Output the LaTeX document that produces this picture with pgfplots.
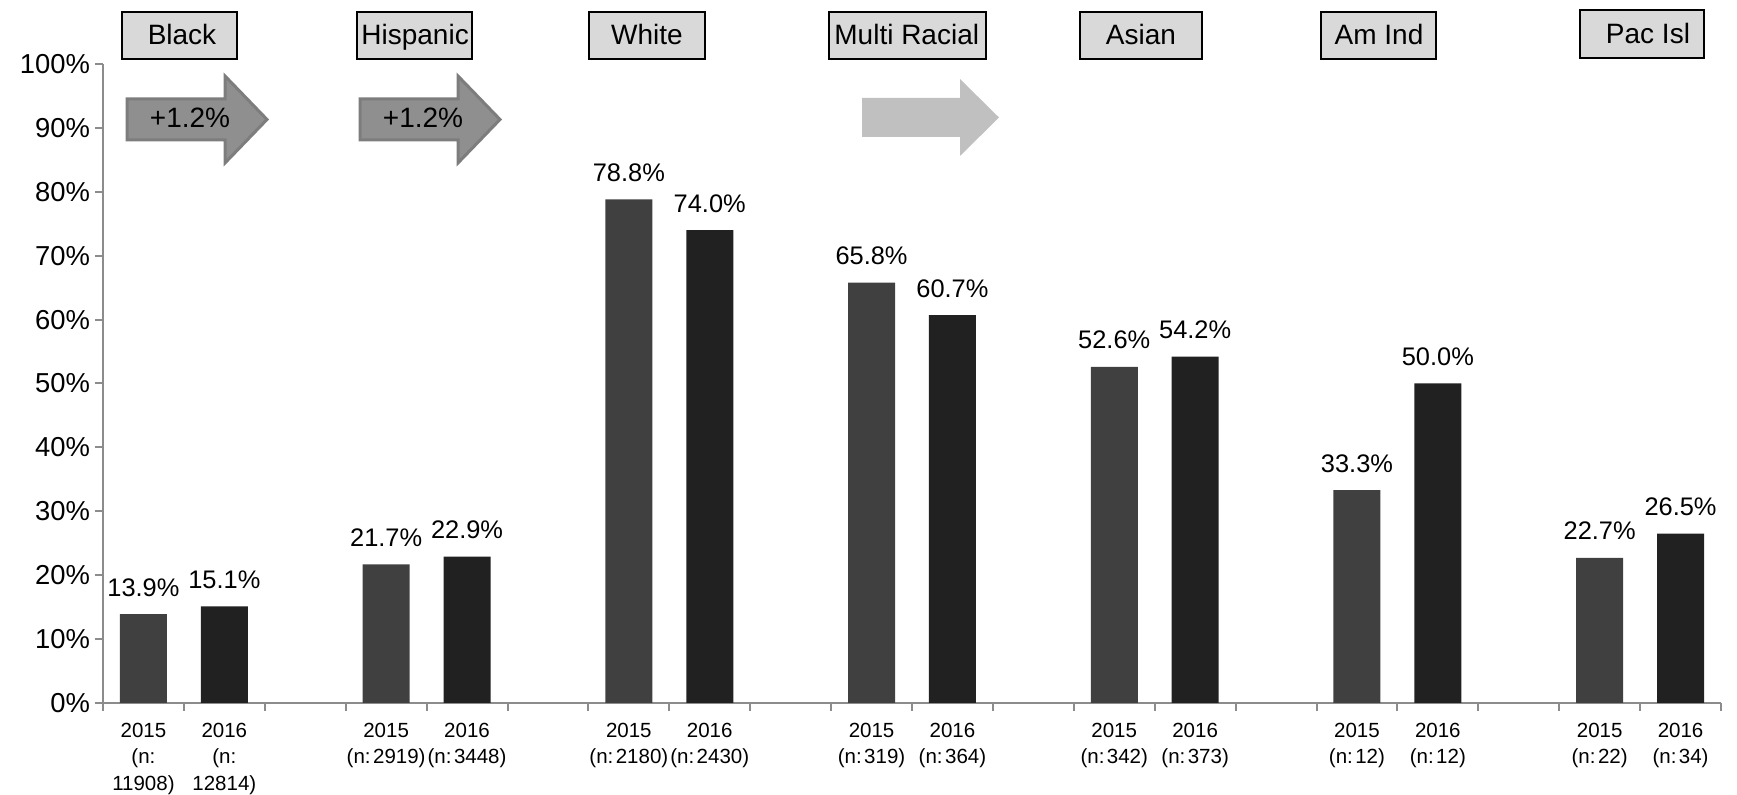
\documentclass[border=0pt]{standalone}
\usepackage{fontspec}
\setmainfont{Liberation Sans}
\usepackage{pgfplots}
\usepackage{pgfplotstable}
\pgfplotsset{compat=1.18}
\definecolor{barA}{HTML}{404040}
\definecolor{barB}{HTML}{212121}
\definecolor{axisgrey}{HTML}{8C8C8C}
\definecolor{boxfill}{HTML}{D9D9D9}
\definecolor{arrowfill}{HTML}{8F8F8F}
\definecolor{arrowdraw}{HTML}{7D7D7D}
\definecolor{lightarrow}{HTML}{C0C0C0}
\newcommand\ns{\hspace{0.12em}}

\pgfplotstableread{
x y
0 13.9
3 21.7
6 78.8
9 65.8
12 52.6
15 33.3
18 22.7
}\dataA
\pgfplotstableread{
x y
1 15.1
4 22.9
7 74.0
10 60.7
13 54.2
16 50.0
19 26.5
}\dataB

\begin{document}
\begin{tikzpicture}
\path[use as bounding box] (-51.5pt,-46pt) rectangle (817pt,351.5pt);
\begin{axis}[
  at={(0,0)}, anchor=south west,
  scale only axis, width=809pt, height=319.5pt,
  xmin=-0.5, xmax=19.5, ymin=0, ymax=100,
  axis x line*=bottom, axis y line*=left,
  axis line style={draw=axisgrey, line width=1pt, -},
  ytick={0,10,...,100},
  yticklabels={0\%,10\%,20\%,30\%,40\%,50\%,60\%,70\%,80\%,90\%,100\%},
  yticklabel style={font=\fontsize{13.7}{16}\selectfont, xshift=1pt},
  xtick={0,...,19},
  xticklabels={
    {2015\\(n:\\11908)},{2016\\(n:\\12814)},{},
    {2015\\(n:\ns2919)},{2016\\(n:\ns3448)},{},
    {2015\\(n:\ns2180)},{2016\\(n:\ns2430)},{},
    {2015\\(n:\ns319)},{2016\\(n:\ns364)},{},
    {2015\\(n:\ns342)},{2016\\(n:\ns373)},{},
    {2015\\(n:\ns12)},{2016\\(n:\ns12)},{},
    {2015\\(n:\ns22)},{2016\\(n:\ns34)}},
  xticklabel style={font=\fontsize{10.25}{13.2}\selectfont, align=center, anchor=north, yshift=-2.5pt},
  minor xtick={-0.5,0.5,...,19.5},
  tick align=outside,
  major tick length=4pt, minor tick length=4pt,
  tick style={draw=axisgrey, line width=1pt},
  major x tick style={draw=none},
  ybar, bar width=23.5pt, bar shift=0pt,
  /pgf/number format/assume math mode=true,
  nodes near coords={\pgfmathprintnumber[fixed,fixed zerofill,precision=1]{\pgfplotspointmeta}\%},
  every node near coord/.append style={font=\fontsize{12.7}{15}\selectfont, anchor=base, yshift=9pt, inner sep=0pt, text=black},
  clip=false,
]
\addplot[fill=barA, draw=none] table[x=x,y=y]{\dataA};
\addplot[fill=barB, draw=none] table[x=x,y=y]{\dataB};
\end{axis}
\begin{scope}[shift={(-51.5pt,351.5pt)}, x=0.5pt, y=-0.5pt]
  \tikzset{box/.style={fill=boxfill, draw=black, line width=0.8pt},
           bl/.style={font=\fontsize{14}{16}\selectfont, inner sep=0pt}}
  \draw[box] (122,12) rectangle (237,59);   \node[bl, anchor=base] at (182,45) {Black};
  \draw[box] (357,12) rectangle (472,59);   \node[bl, anchor=base west] at (361,45) {Hispanic};
  \draw[box] (589,12) rectangle (705,59);   \node[bl, anchor=base] at (647,45) {White};
  \draw[box] (829,12) rectangle (986,59);   \node[bl, anchor=base west] at (834,45) {Multi Racial};
  \draw[box] (1080,12) rectangle (1202,59); \node[bl, anchor=base] at (1141,45) {Asian};
  \draw[box] (1321,12) rectangle (1436,59); \node[bl, anchor=base] at (1379,45) {Am Ind};
  \draw[box] (1580,10) rectangle (1704,58); \node[bl, anchor=base] at (1648,44) {Pac Isl};
  % arrows
  \filldraw[fill=arrowfill, draw=arrowdraw, line width=1.5pt, line join=miter]
    (127,99) -- (225,99) -- (225,76) -- (267,119.5) -- (225,163) -- (225,140) -- (127,140) -- cycle;
  \node[bl, anchor=base] at (190,128) {+1.2\%};
  \filldraw[fill=arrowfill, draw=arrowdraw, line width=1.5pt, line join=miter]
    (360,99) -- (458,99) -- (458,76) -- (500,119.5) -- (458,163) -- (458,140) -- (360,140) -- cycle;
  \node[bl, anchor=base] at (423,128) {+1.2\%};
  \fill[lightarrow] (862,98) -- (960,98) -- (960,79) -- (999,117.5) -- (960,156) -- (960,137) -- (862,137) -- cycle;
\end{scope}
\end{tikzpicture}
\end{document}
